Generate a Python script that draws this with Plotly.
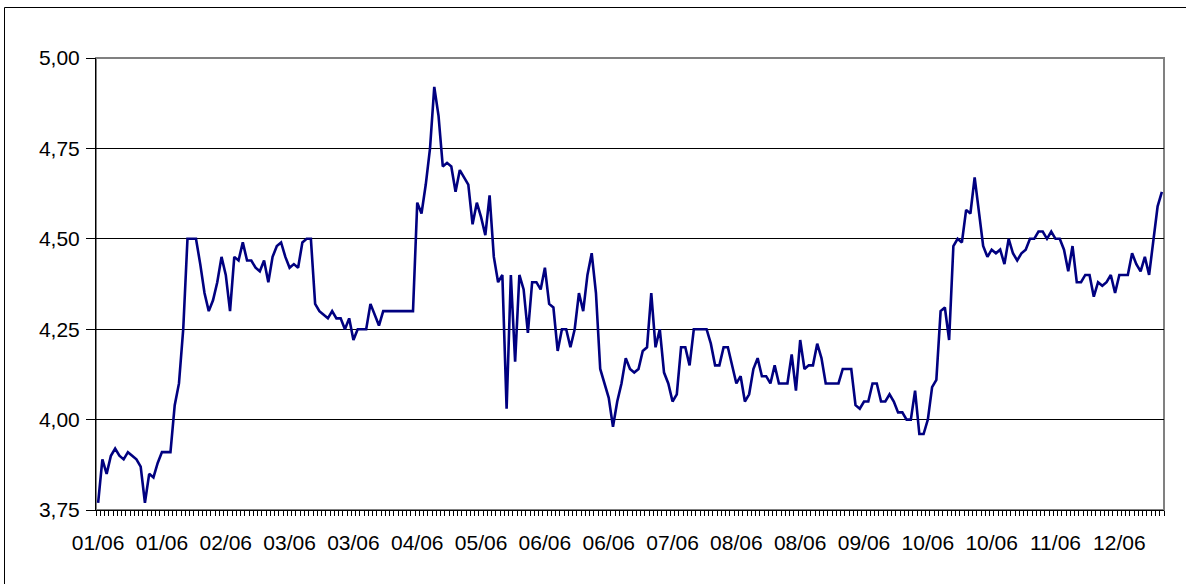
import plotly.graph_objects as go

# ---- data (one value per trading day) ----
values = [
    3.77, 3.89, 3.85, 3.90, 3.92, 3.90, 3.89, 3.91, 3.90, 3.89,
    3.87, 3.77, 3.85, 3.84, 3.88, 3.91, 3.91, 3.91, 4.04, 4.10,
    4.25, 4.50, 4.50, 4.50, 4.43, 4.35, 4.30, 4.33, 4.38, 4.45,
    4.40, 4.30, 4.45, 4.44, 4.49, 4.44, 4.44, 4.42, 4.41, 4.44,
    4.38, 4.45, 4.48, 4.49, 4.45, 4.42, 4.43, 4.42, 4.49, 4.50,
    4.50, 4.32, 4.30, 4.29, 4.28, 4.30, 4.28, 4.28, 4.25, 4.28,
    4.22, 4.25, 4.25, 4.25, 4.32, 4.29, 4.26, 4.30, 4.30, 4.30,
    4.30, 4.30, 4.30, 4.30, 4.30, 4.60, 4.57, 4.65, 4.75, 4.92,
    4.84, 4.70, 4.71, 4.70, 4.63, 4.69, 4.67, 4.65, 4.54, 4.60,
    4.56, 4.51, 4.62, 4.45, 4.38, 4.40, 4.03, 4.40, 4.16, 4.40,
    4.36, 4.24, 4.38, 4.38, 4.36, 4.42, 4.32, 4.31, 4.19, 4.25,
    4.25, 4.20, 4.25, 4.35, 4.30, 4.40, 4.46, 4.35, 4.14, 4.10,
    4.06, 3.98, 4.05, 4.10, 4.17, 4.14, 4.13, 4.14, 4.19, 4.20,
    4.35, 4.20, 4.25, 4.13, 4.10, 4.05, 4.07, 4.20, 4.20, 4.15,
    4.25, 4.25, 4.25, 4.25, 4.21, 4.15, 4.15, 4.20, 4.20, 4.15,
    4.10, 4.12, 4.05, 4.07, 4.14, 4.17, 4.12, 4.12, 4.10, 4.15,
    4.10, 4.10, 4.10, 4.18, 4.08, 4.22, 4.14, 4.15, 4.15, 4.21,
    4.17, 4.10, 4.10, 4.10, 4.10, 4.14, 4.14, 4.14, 4.04, 4.03,
    4.05, 4.05, 4.10, 4.10, 4.05, 4.05, 4.07, 4.05, 4.02, 4.02,
    4.00, 4.00, 4.08, 3.96, 3.96, 4.00, 4.09, 4.11, 4.30, 4.31,
    4.22, 4.48, 4.50, 4.49, 4.58, 4.57, 4.67, 4.57, 4.48, 4.45,
    4.47, 4.46, 4.47, 4.43, 4.50, 4.46, 4.44, 4.46, 4.47, 4.50,
    4.50, 4.52, 4.52, 4.50, 4.52, 4.50, 4.50, 4.47, 4.41, 4.48,
    4.38, 4.38, 4.40, 4.40, 4.34, 4.38, 4.37, 4.38, 4.40, 4.35,
    4.40, 4.40, 4.40, 4.46, 4.43, 4.41, 4.45, 4.40, 4.49, 4.59,
    4.63,
]
day_index = list(range(len(values)))

tick_labels = ["01/06", "01/06", "02/06", "03/06", "03/06", "04/06", "05/06",
               "06/06", "06/06", "07/06", "08/06", "08/06", "09/06", "10/06",
               "10/06", "11/06", "12/06"]
label_step = 15
tick_positions = [i * label_step for i in range(len(tick_labels))]

y_ticks = [3.75, 4.00, 4.25, 4.50, 4.75, 5.00]

# ---- figure ----
W, H = 1186, 584
L, R, T, B = 96, 22, 58, 74
pw, ph = W - L - R, H - T - B

fig = go.Figure()
fig.add_trace(go.Scatter(
    x=day_index, y=values, mode="lines",
    line=dict(color="#000080", width=2.6),
    hoverinfo="skip", showlegend=False,
))

fig.update_layout(
    width=W, height=H,
    margin=dict(l=L, r=R, t=T, b=B, pad=0),
    paper_bgcolor="white", plot_bgcolor="white",
    font=dict(family="Liberation Sans, Arial, sans-serif", size=21, color="black"),
    separators=", ",
    showlegend=False,
    xaxis=dict(
        range=[-0.5, len(values) - 0.5],
        tickmode="array", tickvals=tick_positions, ticktext=tick_labels,
        ticks="", showgrid=False, zeroline=False,
        showline=True, linecolor="black", linewidth=1,
        ticklabelstandoff=14,
        minor=dict(ticks="outside", ticklen=5, tickwidth=1, tickcolor="black",
                   tickmode="linear", tick0=-0.5, dtick=1, showgrid=False),
        fixedrange=True,
    ),
    yaxis=dict(
        range=[y_ticks[0], y_ticks[-1]],
        tickmode="array", tickvals=y_ticks,
        tickformat=".2f",
        ticks="outside", ticklen=9, tickwidth=1, tickcolor="black",
        showgrid=True, gridcolor="black", gridwidth=1,
        showline=True, linecolor="black", linewidth=1,
        zeroline=False, ticklabelstandoff=2,
        fixedrange=True,
    ),
    shapes=[
        # plot-area border (grey)
        dict(type="rect", xref="paper", yref="paper", x0=0, x1=1, y0=0, y1=1,
             line=dict(color="#808080", width=2), layer="below"),
        # outer chart frame
        dict(type="rect", xref="paper", yref="paper",
             x0=(4.5 - L) / pw, x1=(W + 20 - L) / pw,
             y0=-(B + 20) / ph, y1=(ph + T - 7.5) / ph,
             line=dict(color="black", width=1), layer="below"),
    ],
)

fig.write_html("out.html", config={"displayModeBar": False},
               post_script="document.body.style.margin='0';document.body.style.overflow='hidden';")
